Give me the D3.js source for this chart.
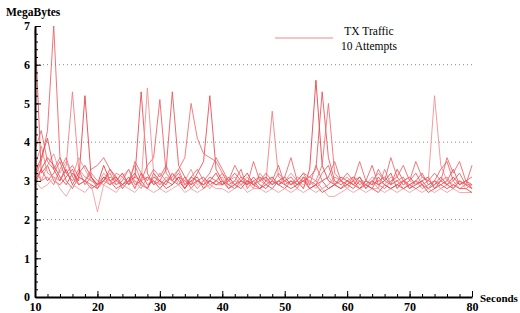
<!DOCTYPE html>
<html>
<head>
<meta charset="utf-8">
<script src="https://cdn.jsdelivr.net/npm/d3@7"></script>
<style>
  body { margin: 0; background: #fff; }
  svg { display: block; }
  .axis path, .axis line { stroke: #000; }
  .axis text { font-family: "Liberation Serif", serif; font-weight: bold; font-size: 12px; fill: #000; }
</style>
</head>
<body>
<svg id="chart" width="520" height="313"></svg>
<script>
// seconds 10..80, one sample per second
var seconds = d3.range(10, 81);

// TX traffic (MegaBytes), 10 attempts
var attempt1 = [6.9,3.2,3.4,3.0,2.9,3.1,3.3,2.9,3.0,2.8, 2.9,3.1,3.0,2.8,2.9,3.0,3.1,5.3,3.2,2.9, 3.0,2.8,2.9,3.1,3.0,2.9,3.2,3.5,5.2,3.3, 3.0,2.9,2.8,3.0,2.9,3.1,2.9,2.8,3.0,2.9, 2.8,3.0,2.9,3.1,2.8,2.9,3.0,2.8,2.9,3.0, 2.9,2.8,3.0,2.9,2.8,3.1,2.9,2.8,2.9,3.0, 2.8,2.9,3.0,2.8,2.9,3.1,2.9,2.8,3.0,2.9, 2.8];
var attempt2 = [3.1,3.5,4.3,7.0,3.6,3.2,3.0,3.3,2.9,3.1, 2.8,3.0,3.2,2.9,3.0,3.3,2.9,3.0,3.4,3.6, 5.1,3.2,3.0,2.9,3.1,2.8,3.0,2.9,3.1,3.0, 3.2,2.9,3.0,3.3,2.8,3.0,3.1,2.9,3.0,3.4, 2.9,3.0,2.8,3.1,3.0,2.9,3.2,3.4,2.9,2.8, 3.0,3.1,2.9,3.0,3.4,2.9,2.8,3.0,3.1,2.9, 3.0,3.2,2.9,2.8,3.0,3.3,3.5,3.0,3.2,2.9, 3.4];
var attempt3 = [3.4,3.9,3.2,3.1,3.0,3.4,5.3,3.3,3.1,3.0, 2.9,3.0,2.9,3.2,3.1,2.9,3.0,2.8,3.1,3.0, 2.9,3.1,3.0,3.3,2.9,3.0,2.8,3.0,3.0,2.9, 2.9,3.0,3.1,2.9,3.0,2.8,3.2,3.0,4.8,3.1, 3.0,2.9,3.1,3.0,2.9,3.0,2.8,2.9,3.1,3.0, 2.8,3.0,3.1,2.9,3.0,2.8,3.3,2.9,3.0,2.8, 2.9,3.0,2.8,2.9,3.0,2.8,2.9,3.0,2.8,2.9, 2.8];
var attempt4 = [3.0,3.3,3.6,3.4,3.1,2.9,3.2,3.0,5.2,3.1, 2.9,3.4,3.0,3.1,2.8,3.0,3.2,2.9,2.8,3.1, 3.0,2.9,3.2,3.0,2.8,3.1,3.0,2.9,3.0,3.2, 2.9,3.1,2.9,3.0,3.2,2.9,3.0,3.1,2.9,3.0, 3.1,2.9,3.0,2.8,3.3,5.6,3.4,3.0,2.9,3.1, 3.0,2.9,3.1,2.8,3.0,2.9,3.0,3.2,2.8,3.0, 3.1,2.9,3.0,3.1,2.8,3.0,2.9,3.1,2.9,3.0, 2.9];
var attempt5 = [3.6,3.0,3.4,3.7,3.2,3.5,3.1,3.6,3.3,3.0, 2.9,3.2,3.0,2.9,3.1,3.3,3.0,2.9,5.4,3.2, 2.9,3.0,3.2,2.9,3.0,3.3,2.9,3.0,2.8,3.0, 3.1,2.8,3.0,2.9,3.1,2.9,3.0,2.9,3.1,2.9, 3.0,3.2,3.0,2.9,3.0,2.8,3.0,3.1,2.9,3.0, 3.1,2.9,3.0,2.9,3.1,3.0,2.9,3.1,3.0,2.9, 3.0,2.9,3.1,3.0,5.2,3.4,3.0,2.9,3.0,2.8, 2.9];
var attempt6 = [2.9,3.3,3.0,3.2,3.5,3.0,2.8,3.1,3.0,2.9, 2.8,3.1,2.9,3.0,3.2,2.9,3.1,3.0,2.8,3.2, 3.0,3.3,5.3,3.4,3.1,2.9,3.0,3.1,2.9,3.0, 2.9,3.0,3.2,3.0,2.9,3.0,2.8,3.0,3.1,2.9, 3.0,3.1,2.9,3.0,3.1,3.3,5.3,3.6,3.0,2.9, 3.0,2.9,2.8,3.0,2.9,3.0,3.1,2.9,3.3,3.0, 2.9,3.0,3.2,2.9,3.0,2.9,3.0,3.3,2.9,3.0, 2.8];
var attempt7 = [3.3,3.0,3.1,2.9,3.3,3.6,3.1,2.9,3.0,3.2, 3.0,2.9,3.1,3.0,2.9,3.0,3.4,3.0,3.1,2.9, 3.2,3.0,3.1,3.3,3.6,5.0,4.1,3.7,3.6,3.5, 3.2,3.0,2.9,3.1,3.0,2.9,3.1,3.0,2.9,3.2, 3.0,2.9,3.0,3.2,3.1,3.0,3.4,5.0,3.2,3.0, 2.9,3.1,3.0,2.8,3.0,3.2,3.0,2.9,3.0,3.1, 2.8,3.0,2.9,3.0,2.9,3.0,3.1,2.8,3.0,2.9, 2.9];
var attempt8 = [3.0,2.8,2.9,3.1,2.8,2.6,2.9,2.8,2.7,2.9, 2.2,2.9,2.8,2.7,2.9,2.8,2.7,2.9,2.8,2.7, 2.8,2.7,2.8,2.9,2.7,2.8,2.7,2.8,2.9,2.8, 2.8,2.7,2.8,2.9,2.7,2.8,2.8,2.7,2.8,2.7, 2.8,2.7,2.8,2.7,2.8,2.7,2.8,2.6,2.6,2.7, 2.8,2.7,2.8,2.7,2.8,2.8,2.7,2.8,2.7,2.8, 2.7,2.8,2.7,2.8,2.7,2.8,2.7,2.8,2.7,2.7, 2.7];
var attempt9 = [3.8,4.3,3.5,3.3,3.6,3.2,3.4,3.1,3.0,3.3, 3.4,3.6,3.3,3.0,3.2,2.9,3.5,3.2,3.0,3.3, 3.1,3.4,3.0,3.2,2.9,3.1,3.3,3.0,3.2,3.6, 3.3,3.0,3.4,3.1,2.9,3.5,3.0,3.2,3.0,2.9, 3.1,3.6,3.0,3.2,2.9,3.4,3.0,3.1,3.5,3.0, 3.2,3.0,3.5,3.0,2.9,3.3,3.0,3.6,3.1,3.4, 3.0,3.5,3.1,3.0,3.2,3.0,3.6,3.2,3.5,3.0, 3.1];
var attempt10 = [3.2,3.6,4.1,3.3,3.0,3.3,2.9,3.2,3.4,3.1, 2.9,3.0,3.3,3.1,2.9,3.1,2.8,3.2,2.9,3.0, 2.8,3.0,2.9,3.1,2.8,3.0,3.1,2.8,3.0,2.9, 3.0,2.8,2.9,2.8,3.0,2.9,2.8,2.9,2.8,3.0, 2.9,2.8,2.9,3.0,2.8,2.9,2.7,2.8,2.9,2.8, 2.9,3.0,2.8,2.9,2.8,2.7,2.9,2.8,2.9,2.8, 2.9,2.8,2.9,2.7,2.8,2.9,2.8,2.9,2.8,2.8, 2.7];

var attempts = [attempt1, attempt2, attempt3, attempt4, attempt5,
                attempt6, attempt7, attempt8, attempt9, attempt10];

var xTicks = [10, 20, 30, 40, 50, 60, 70, 80];
var yTicks = [0, 1, 2, 3, 4, 5, 6, 7];
var gridValues = [2, 4, 6];

var colors = ["#e8474c", "#ee5a5f", "#f07a7e", "#e63b40", "#f28c8f",
              "#ea5055", "#f06a6e", "#f39a9c", "#ec6166", "#e9444a"];

var svg = d3.select("#chart");

var x = d3.scaleLinear().domain([10, 80]).range([35, 472]);
var y = d3.scaleLinear().domain([0, 7]).range([297, 26]);

// dotted grid lines
svg.selectAll(".grid")
  .data(gridValues)
  .enter()
  .append("line")
    .attr("x1", x(10))
    .attr("x2", x(80))
    .attr("y1", function(d){ return y(d) })
    .attr("y2", function(d){ return y(d) })
    .attr("stroke", "#888")
    .attr("stroke-width", 1)
    .attr("stroke-dasharray", "1,3")

// the lines
var line = d3.line()
  .x(function(d, i){ return x(seconds[i]) })
  .y(function(d){ return y(d) })

svg.selectAll(".attempt")
  .data(attempts)
  .enter()
  .append("path")
    .attr("d", line)
    .attr("fill", "none")
    .attr("stroke", function(d, i){ return colors[i] })
    .attr("stroke-width", 1)
    .attr("stroke-opacity", 0.85)

// minor ticks
svg.append("g")
  .attr("class", "axis")
  .attr("transform", "translate(" + x(10) + ",0)")
  .call(d3.axisLeft(y).tickValues(d3.range(0, 7.01, 0.2)).tickSize(-3).tickFormat(""))
  .select(".domain").remove();

svg.append("g")
  .attr("class", "axis")
  .attr("transform", "translate(0," + y(0) + ")")
  .call(d3.axisBottom(x).tickValues(d3.range(10, 80.01, 2)).tickSize(-3).tickFormat(""))
  .select(".domain").remove();

// major axes
var yAxis = svg.append("g")
  .attr("class", "axis")
  .attr("transform", "translate(" + x(10) + ",0)")
  .call(d3.axisLeft(y).tickValues(yTicks).tickFormat(d3.format("d")).tickSize(-6).tickSizeOuter(0).tickPadding(5))
yAxis.select(".domain").attr("stroke-width", 2)

var xAxis = svg.append("g")
  .attr("class", "axis")
  .attr("transform", "translate(0," + y(0) + ")")
  .call(d3.axisBottom(x).tickValues(xTicks).tickFormat(d3.format("d")).tickSize(-6).tickSizeOuter(0).tickPadding(5))
xAxis.select(".domain").attr("stroke-width", 2)

// axis titles
svg.append("text")
  .attr("x", 6)
  .attr("y", 16)
  .style("font-family", "Liberation Serif, serif")
  .style("font-weight", "bold")
  .style("font-size", "11.5px")
  .text("MegaBytes")

svg.append("text")
  .attr("x", 480)
  .attr("y", 302)
  .style("font-family", "Liberation Serif, serif")
  .style("font-weight", "bold")
  .style("font-size", "11px")
  .text("Seconds")

// legend
svg.append("line")
  .attr("x1", 275).attr("x2", 333)
  .attr("y1", 38).attr("y2", 38)
  .attr("stroke", "#f08a8d")
  .attr("stroke-width", 1.2)

svg.append("text")
  .attr("x", 369).attr("y", 35)
  .attr("text-anchor", "middle")
  .style("font-family", "Liberation Serif, serif")
  .style("font-size", "11.5px")
  .text("TX Traffic")

svg.append("text")
  .attr("x", 369).attr("y", 50)
  .attr("text-anchor", "middle")
  .style("font-family", "Liberation Serif, serif")
  .style("font-size", "11.5px")
  .text("10 Attempts")
</script>
</body>
</html>
